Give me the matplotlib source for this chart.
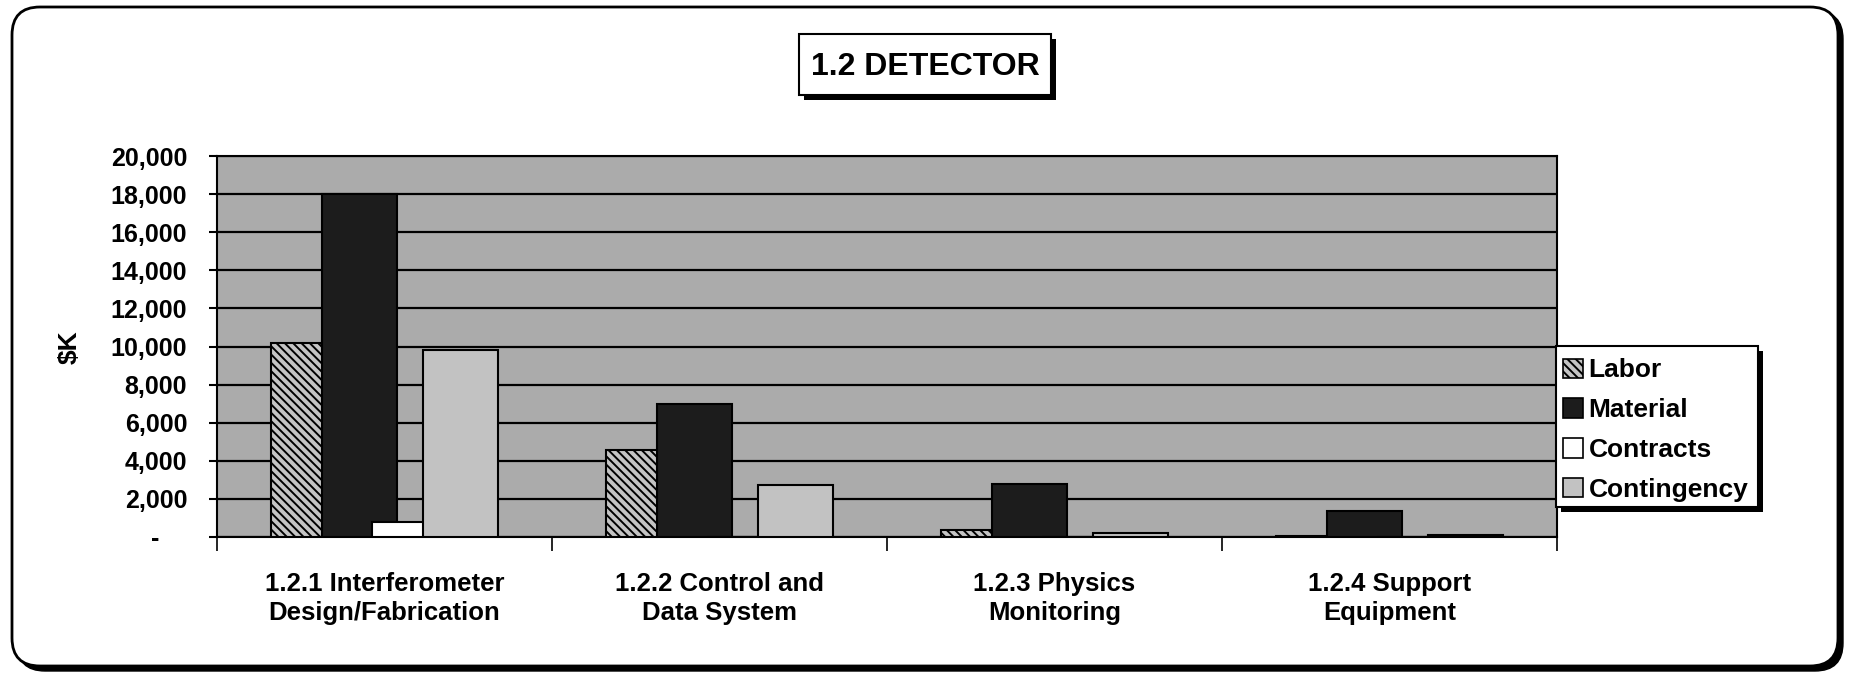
import numpy as np
import matplotlib
matplotlib.use("Agg")
import matplotlib.pyplot as plt
from matplotlib.patches import FancyBboxPatch, Rectangle, Patch
from matplotlib.transforms import IdentityTransform

plt.rcParams['font.family'] = ['Liberation Sans', 'DejaVu Sans']
plt.rcParams['font.weight'] = 'bold'
plt.rcParams['hatch.linewidth'] = 1.4

# --- data ($K) ---
categories = ["1.2.1 Interferometer\nDesign/Fabrication",
              "1.2.2 Control and\nData System",
              "1.2.3 Physics\nMonitoring",
              "1.2.4 Support\nEquipment"]
labor = [10200, 4550, 350, 50]
material = [18000, 7000, 2800, 1350]
contracts = [800, 0, 0, 0]
contingency = [9800, 2750, 200, 80]
series_names = ["Labor", "Material", "Contracts", "Contingency"]
y_ticks = list(range(0, 20001, 2000))

W, H = 1851, 674
fig = plt.figure(figsize=(W / 100, H / 100), dpi=100)
fig.patch.set_facecolor('white')
px = IdentityTransform()

# outer rounded frame with a heavy shadow
fig.add_artist(FancyBboxPatch((17, 3), 1826, 660, boxstyle="round,pad=0,rounding_size=28",
                              transform=px, facecolor='black', edgecolor='black', zorder=0))
fig.add_artist(FancyBboxPatch((12, 8), 1826, 659, boxstyle="round,pad=0,rounding_size=28",
                              transform=px, facecolor='white', edgecolor='black', lw=2, zorder=0.5))

ax = fig.add_axes([217 / W, 1 - 537 / H, 1340 / W, 381 / H])
ax.set_zorder(3)
ax.set_facecolor('#ababab')

x = np.arange(len(categories))
step, width = 0.152, 0.224
styles = [
    dict(facecolor='#c4c4c4', hatch='\\\\\\\\'),
    dict(facecolor='#1c1c1c'),
    dict(facecolor='white'),
    dict(facecolor='#c2c2c2'),
]
for i, (vals, st) in enumerate(zip([labor, material, contracts, contingency], styles)):
    ax.bar(x + (i - 1.5) * step, vals, width, edgecolor='black', lw=1.5,
           zorder=3 + i, **st)

ax.set_xlim(-0.5, 3.5)
ax.set_ylim(0, 20000)
ax.set_yticks(y_ticks)
ax.set_yticklabels([f"{v:,}" if v else "-    " for v in y_ticks], fontsize=18)
ax.yaxis.grid(True, color='black', lw=1.6)
ax.set_axisbelow(True)
ax.tick_params(axis='y', direction='out', length=6, width=1.5, pad=15.5)

ax.set_xticks([-0.5, 0.5, 1.5, 2.5, 3.5])
ax.set_xticklabels([])
ax.set_xticks(x, minor=True)
ax.set_xticklabels(categories, minor=True, fontsize=18.5, linespacing=1.3)
ax.tick_params(axis='x', which='major', direction='out', length=10, width=1.2)
ax.tick_params(axis='x', which='minor', length=0, pad=25)
for s in ax.spines.values():
    s.set_linewidth(1.5)

fig.text(70 / W, 1 - 347 / H, "$K", rotation=90, ha='center', va='center', fontsize=19, zorder=4)

# title box with shadow
fig.add_artist(Rectangle((804, 574), 252, 61, transform=px, facecolor='black', zorder=1))
fig.add_artist(Rectangle((799, 579), 252, 61, transform=px, facecolor='white',
                         edgecolor='black', lw=1.5, zorder=1.5))
fig.text(925 / W, 1 - 67 / H, "1.2 DETECTOR", ha='center', va='center', fontsize=23, zorder=2)

# legend box with shadow
fig.add_artist(Rectangle((1561, 162), 202, 161, transform=px, facecolor='black', zorder=10))
fig.add_artist(Rectangle((1556, 167), 202, 161, transform=px, facecolor='white',
                         edgecolor='black', lw=1.5, zorder=11))
handles = [Patch(edgecolor='black', lw=1.2, label=n, **st) for n, st in zip(series_names, styles)]
leg = fig.legend(handles=handles, loc='upper left', bbox_to_anchor=(1545 / W, 1 - 340 / H),
                 frameon=False, fontsize=19, handlelength=0.75, handleheight=0.75,
                 handletextpad=0.2, labelspacing=0.6, borderpad=0.2)
leg.set_zorder(12)

fig.savefig("out.png", dpi=100)
